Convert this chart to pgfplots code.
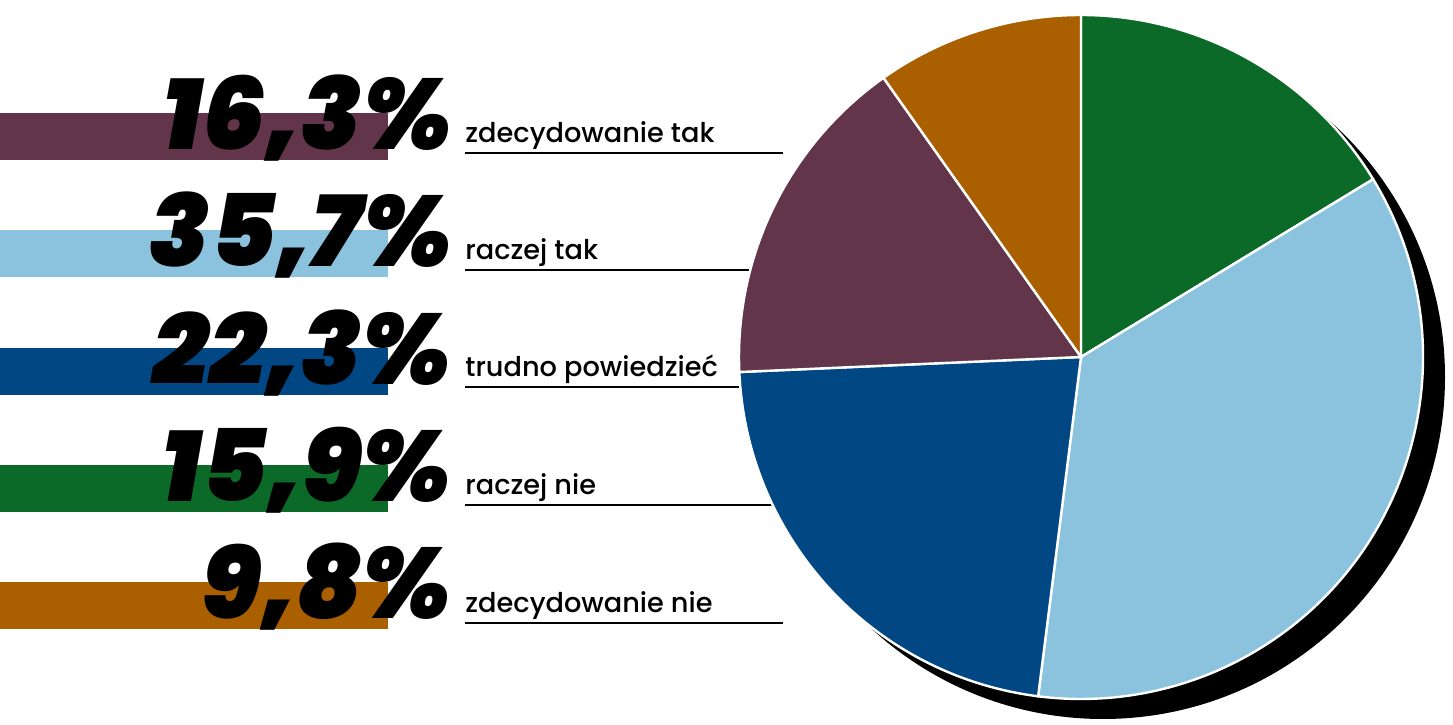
\documentclass[border=0pt]{standalone}
\usepackage{fontspec}
\setmainfont{Poppins}
\newfontfamily\medfont{Poppins Medium}
\newfontfamily\blackfont{Poppins Black Italic}
\usepackage{pgfplots}
\pgfplotsset{compat=1.18}
\definecolor{cMaroon}{RGB}{98,53,74}
\definecolor{cLight}{RGB}{139,195,223}
\definecolor{cDark}{RGB}{0,71,132}
\definecolor{cGreen}{RGB}{12,106,40}
\definecolor{cOrange}{RGB}{171,96,0}
\newcommand{\pct}{\blackfont\fontsize{50}{50}\selectfont}
\newcommand{\lab}{\medfont\fontsize{13.6}{13.6}\selectfont}

\begin{document}
\begin{tikzpicture}
\begin{axis}[
  scale only axis, width=726.5pt, height=362pt,
  xmin=0, xmax=1453, ymin=0, ymax=724,
  hide axis, clip=false]
\path (axis cs:0,0) coordinate (bl) (axis cs:1453,724) coordinate (tr);

% legend bars
\fill[cMaroon] (axis cs:0,564) rectangle (axis cs:388,611);
\fill[cLight]  (axis cs:0,447) rectangle (axis cs:388,494);
\fill[cDark]   (axis cs:0,329) rectangle (axis cs:388,376);
\fill[cGreen]  (axis cs:0,212) rectangle (axis cs:388,259);
\fill[cOrange] (axis cs:0,95)  rectangle (axis cs:388,142);

% underlines
\draw[line width=1pt] (axis cs:465,571) -- (axis cs:783,571);
\draw[line width=1pt] (axis cs:465,454) -- (axis cs:783,454);
\draw[line width=1pt] (axis cs:465,337) -- (axis cs:783,337);
\draw[line width=1pt] (axis cs:465,219) -- (axis cs:783,219);
\draw[line width=1pt] (axis cs:465,101) -- (axis cs:783,101);

% percentages
\node[anchor=base east, inner sep=0pt, font=\pct] at (axis cs:452,574) {16,3\%};
\node[anchor=base east, inner sep=0pt, font=\pct] at (axis cs:452,457) {35,7\%};
\node[anchor=base east, inner sep=0pt, font=\pct] at (axis cs:452,339) {22,3\%};
\node[anchor=base east, inner sep=0pt, font=\pct] at (axis cs:452,222) {15,9\%};
\node[anchor=base east, inner sep=0pt, font=\pct] at (axis cs:452,105) {9,8\%};

% labels
\node[anchor=base west, inner sep=0pt, font=\lab] at (axis cs:465,581) {zdecydowanie tak};
\node[anchor=base west, inner sep=0pt, font=\lab] at (axis cs:465,464) {raczej tak};
\node[anchor=base west, inner sep=0pt, font=\lab] at (axis cs:465,347) {trudno powiedzieć};
\node[anchor=base west, inner sep=0pt, font=\lab] at (axis cs:465,229) {raczej nie};
\node[anchor=base west, inner sep=0pt, font=\lab] at (axis cs:465,112) {zdecydowanie nie};

% pie shadow
\fill[black] (axis cs:1103,347) circle[radius=171pt];

% pie, clockwise from top, slice sizes as drawn in the reference pie:
% green 16.3, light blue 35.7, dark blue 22.3, maroon 15.9, orange 9.8
\filldraw[fill=cGreen, draw=white, line width=1.2pt] (axis cs:1081,367) -- ++(90:171pt)
  arc[start angle=90, delta angle=-3.6*16.3, radius=171pt] -- cycle;
\filldraw[fill=cLight, draw=white, line width=1.2pt] (axis cs:1081,367) -- ++(90-3.6*16.3:171pt)
  arc[start angle=90-3.6*16.3, delta angle=-3.6*35.7, radius=171pt] -- cycle;
\filldraw[fill=cDark, draw=white, line width=1.2pt] (axis cs:1081,367) -- ++(90-3.6*52.0:171pt)
  arc[start angle=90-3.6*52.0, delta angle=-3.6*22.3, radius=171pt] -- cycle;
\filldraw[fill=cMaroon, draw=white, line width=1.2pt] (axis cs:1081,367) -- ++(90-3.6*74.3:171pt)
  arc[start angle=90-3.6*74.3, delta angle=-3.6*15.9, radius=171pt] -- cycle;
\filldraw[fill=cOrange, draw=white, line width=1.2pt] (axis cs:1081,367) -- ++(90-3.6*90.2:171pt)
  arc[start angle=90-3.6*90.2, delta angle=-3.6*9.8, radius=171pt] -- cycle;
\end{axis}
\pgfresetboundingbox
\path[use as bounding box] (bl) rectangle (tr);
\end{tikzpicture}
\end{document}
